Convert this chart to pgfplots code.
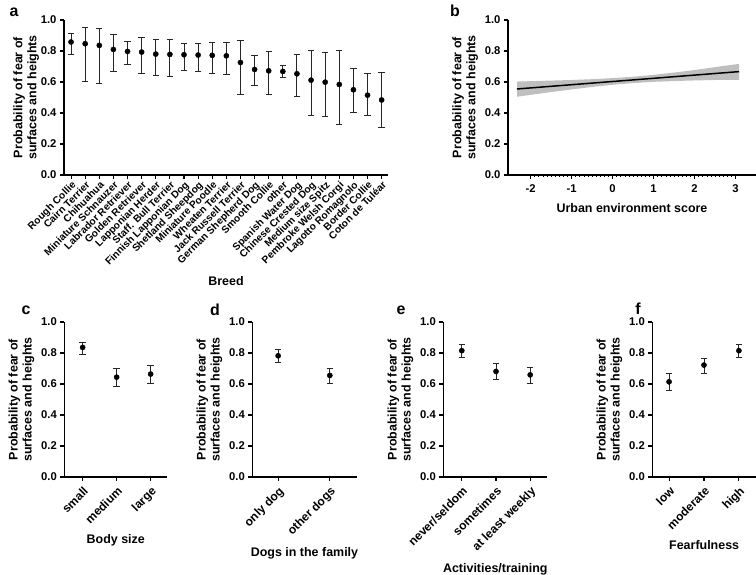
\documentclass[border=0pt]{standalone}
\usepackage{fontspec}
\setmainfont{Liberation Sans}
\usepackage{pgfplots}
\usepackage{pgfplotstable}
\pgfplotsset{compat=1.18}

\pgfplotstableread{
x y lo hi
0 0.858 0.778 0.914
1 0.847 0.603 0.953
2 0.836 0.588 0.944
3 0.810 0.666 0.905
4 0.797 0.713 0.862
5 0.793 0.653 0.888
6 0.780 0.642 0.873
7 0.778 0.634 0.873
8 0.776 0.677 0.847
9 0.774 0.666 0.851
10 0.772 0.657 0.856
11 0.769 0.651 0.853
12 0.726 0.522 0.866
13 0.681 0.578 0.769
14 0.672 0.519 0.795
15 0.668 0.629 0.705
16 0.653 0.509 0.778
17 0.612 0.384 0.802
18 0.599 0.379 0.789
19 0.584 0.325 0.804
20 0.550 0.401 0.690
21 0.515 0.381 0.653
22 0.484 0.308 0.662
}\breed

\pgfplotstableread{
x y lo hi
0 0.836 0.793 0.869
1 0.644 0.584 0.703
2 0.664 0.601 0.718
}\bodysize

\pgfplotstableread{
x y lo hi
0 0.782 0.739 0.821
1 0.655 0.606 0.703
}\dogs

\pgfplotstableread{
x y lo hi
0 0.815 0.772 0.853
1 0.681 0.627 0.731
2 0.659 0.606 0.709
}\activ

\pgfplotstableread{
x y lo hi
0 0.614 0.556 0.666
1 0.722 0.670 0.765
2 0.815 0.774 0.853
}\fear

\pgfplotsset{
  prism/.style={
    scale only axis, axis lines=left, axis line style={-, line width=1.2bp, black},
    tick align=outside, major tick length=4bp,
    major tick style={line width=1.1bp, black},
    ymin=0, ymax=1, ytick={0,0.2,0.4,0.6,0.8,1},
    /pgf/number format/assume math mode=true,
    yticklabel style={/pgf/number format/fixed, /pgf/number format/fixed zerofill, /pgf/number format/precision=1},
    tick label style={font=\bfseries\fontsize{11.3}{13}\selectfont},
    label style={font=\bfseries\fontsize{12.5}{14}\selectfont},
    ylabel={Probability of fear of\\surfaces and heights},
    ylabel style={align=center},
    clip=false,
  },
  cat/.style={xticklabel style={rotate=45, anchor=north east, font=\bfseries\fontsize{12}{13}\selectfont}, xlabel style={yshift=-2bp}},
  errpts/.style={only marks, mark=*, mark size=2.6bp, black,
    error bars/.cd, y dir=both, y explicit,
    error bar style={line width=0.9bp, black!85},
    error mark options={rotate=90, mark size=3.2bp, line width=0.9bp, black!85}},
}

\begin{document}
\begin{tikzpicture}
\useasboundingbox (0,0) rectangle (756bp,575bp);

% panel a
\begin{axis}[prism, at={(64bp,400bp)}, anchor=south west, width=324bp, height=155bp,
  xmin=-0.5, xmax=22.45, xtick={0,...,22},
  xticklabels={Rough Collie, Cairn Terrier, Chihuahua, Miniature Schnauzer, Labrador Retriever, Golden Retriever, Lapponian Herder, Staff. Bull Terrier, Finnish Lapponian Dog, Shetland Sheepdog, Miniature Poodle, Wheaten Terrier, Jack Russell Terrier, German Shepherd Dog, Smooth Collie, other, Spanish Water Dog, Chinese Crested Dog, Medium size Spitz, Pembroke Welsh Corgi, Lagotto Romagnolo, Border Collie, Coton de Tuléar},
  xticklabel style={rotate=45, anchor=north east, inner sep=1bp, font=\bfseries\fontsize{10.2}{12}\selectfont},
  xlabel={Breed}, xlabel style={yshift=-4bp}, ylabel shift=-5bp]
\addplot[errpts] table[x=x, y=y, y error plus expr=\thisrow{hi}-\thisrow{y}, y error minus expr=\thisrow{y}-\thisrow{lo}]{\breed};
\end{axis}

% panel b
\begin{axis}[prism, at={(508bp,400bp)}, anchor=south west, width=248bp, height=155bp,
  xmin=-2.55, xmax=3.5, xtick={-2,-1,0,1,2,3},
  xticklabel style={yshift=-2bp},
  minor x tick num=9, minor tick length=2bp, minor tick style={line width=0.6bp, black},
  xlabel={Urban environment score}, xlabel style={yshift=-4bp}]
\addplot[fill=gray!50, draw=none] coordinates {(-2.33,0.603) (-1.5,0.609) (-1,0.613) (-0.5,0.618) (0,0.625) (0.5,0.634) (1,0.646) (1.5,0.661) (2,0.677) (2.5,0.696) (3.09,0.717)
 (3.09,0.613) (2.5,0.613) (2,0.610) (1.5,0.606) (1,0.601) (0.5,0.593) (0,0.582) (-0.5,0.568) (-1,0.552) (-1.5,0.535) (-2.33,0.505)} -- cycle;
\addplot[black, line width=1.5bp] coordinates {(-2.33,0.555) (3.09,0.667)};
\end{axis}

% panel c
\begin{axis}[prism, cat, at={(64.3bp,98bp)}, anchor=south west, width=103bp, height=155bp,
  xmin=-0.54, xmax=2.49, xtick={0,1,2}, xticklabels={small,medium,large},
  xlabel={Body size}]
\addplot[errpts] table[x=x, y=y, y error plus expr=\thisrow{hi}-\thisrow{y}, y error minus expr=\thisrow{y}-\thisrow{lo}]{\bodysize};
\end{axis}

% panel d
\begin{axis}[prism, cat, at={(252.3bp,98bp)}, anchor=south west, width=104.4bp, height=155bp,
  xmin=-0.5, xmax=1.52, xtick={0,1}, xticklabels={only dog,other dogs},
  xlabel={Dogs in the family}]
\addplot[errpts] table[x=x, y=y, y error plus expr=\thisrow{hi}-\thisrow{y}, y error minus expr=\thisrow{y}-\thisrow{lo}]{\dogs};
\end{axis}

% panel e
\begin{axis}[prism, cat, at={(443.3bp,98bp)}, anchor=south west, width=104bp, height=155bp,
  xmin=-0.54, xmax=2.5, xtick={0,1,2}, xticklabels={never/seldom,sometimes,at least weekly},
  xlabel={Activities/training}]
\addplot[errpts] table[x=x, y=y, y error plus expr=\thisrow{hi}-\thisrow{y}, y error minus expr=\thisrow{y}-\thisrow{lo}]{\activ};
\end{axis}

% panel f
\begin{axis}[prism, cat, at={(652.3bp,98bp)}, anchor=south west, width=103.7bp, height=155bp,
  xmin=-0.48, xmax=2.49, xtick={0,1,2}, xticklabels={low,moderate,high},
  xlabel={Fearfulness}]
\addplot[errpts] table[x=x, y=y, y error plus expr=\thisrow{hi}-\thisrow{y}, y error minus expr=\thisrow{y}-\thisrow{lo}]{\fear};
\end{axis}

\node[font=\bfseries\fontsize{16}{16}\selectfont] at (14bp,562.5bp) {a};
\node[font=\bfseries\fontsize{16}{16}\selectfont] at (455bp,564bp) {b};
\node[font=\bfseries\fontsize{16}{16}\selectfont] at (26bp,265bp) {c};
\node[font=\bfseries\fontsize{16}{16}\selectfont] at (215bp,265bp) {d};
\node[font=\bfseries\fontsize{16}{16}\selectfont] at (401bp,265bp) {e};
\node[font=\bfseries\fontsize{16}{16}\selectfont] at (638bp,266bp) {f};
\end{tikzpicture}
\end{document}
